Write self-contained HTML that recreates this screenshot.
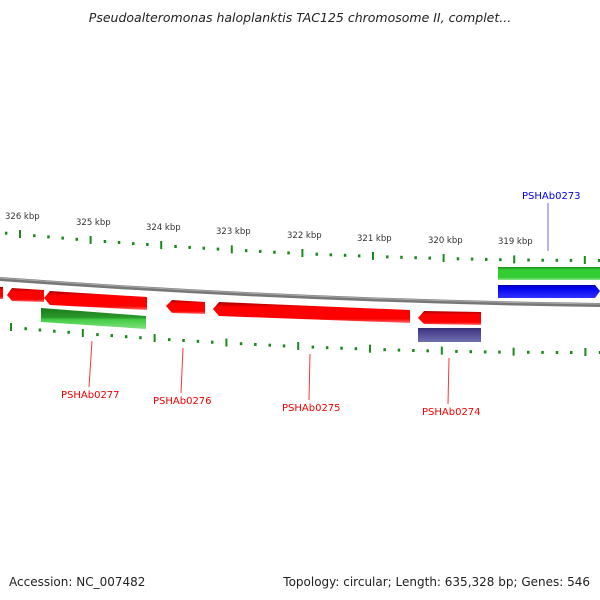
<!DOCTYPE html>
<html><head><style>
html,body{margin:0;padding:0;background:#fff;}
svg{display:block;font-family:"DejaVu Sans","Liberation Sans",sans-serif;}
</style></head><body>
<svg width="600" height="600" xmlns="http://www.w3.org/2000/svg">
<defs>
<linearGradient id="r" x1="0" y1="0" x2="0" y2="1"><stop offset="0" stop-color="#a00000"/><stop offset="0.25" stop-color="#f00"/><stop offset="0.8" stop-color="#f00"/><stop offset="1" stop-color="#ff7070"/></linearGradient>
<linearGradient id="g" x1="0" y1="0" x2="0" y2="1"><stop offset="0" stop-color="#1a7a1a"/><stop offset="0.45" stop-color="#2a9a2a"/><stop offset="0.55" stop-color="#44cc44"/><stop offset="1" stop-color="#80e080"/></linearGradient>
<linearGradient id="g2" x1="0" y1="0" x2="0" y2="1"><stop offset="0" stop-color="#1c8a1c"/><stop offset="0.2" stop-color="#33cc33"/><stop offset="0.8" stop-color="#33cc33"/><stop offset="1" stop-color="#90e890"/></linearGradient>
<linearGradient id="b" x1="0" y1="0" x2="0" y2="1"><stop offset="0" stop-color="#0000aa"/><stop offset="0.2" stop-color="#0000ee"/><stop offset="1" stop-color="#3030ff"/></linearGradient>
<linearGradient id="p" x1="0" y1="0" x2="0" y2="1"><stop offset="0" stop-color="#303070"/><stop offset="0.2" stop-color="#483d8b"/><stop offset="1" stop-color="#7070b0"/></linearGradient>
</defs>
<text x="300" y="22" text-anchor="middle" font-size="12.5" font-style="italic" fill="#222">Pseudoalteromonas haloplanktis TAC125 chromosome II, complet...</text>
<path d="M0,279 Q300,301 600,305" stroke="#777" stroke-width="4" fill="none"/>
<path d="M0,278 Q300,300 600,304" stroke="#aaa" stroke-width="1" fill="none"/>
<g fill="#1a8a1a">
<rect x="4.9" y="231.7" width="2.5" height="3"/>
<rect x="19" y="230" width="2" height="8"/>
<rect x="33.1" y="234.2" width="2.5" height="3"/>
<rect x="47.2" y="235.4" width="2.5" height="3"/>
<rect x="61.4" y="236.6" width="2.5" height="3"/>
<rect x="75.5" y="237.8" width="2.5" height="3"/>
<rect x="89.6" y="235.9" width="2" height="8"/>
<rect x="103.7" y="240" width="2.5" height="3"/>
<rect x="117.8" y="241" width="2.5" height="3"/>
<rect x="132" y="242.1" width="2.5" height="3"/>
<rect x="146.1" y="243" width="2.5" height="3"/>
<rect x="160.2" y="241" width="2" height="8"/>
<rect x="174.3" y="245" width="2.5" height="3"/>
<rect x="188.4" y="245.9" width="2.5" height="3"/>
<rect x="202.5" y="246.7" width="2.5" height="3"/>
<rect x="216.7" y="247.6" width="2.5" height="3"/>
<rect x="230.8" y="245.4" width="2" height="8"/>
<rect x="244.9" y="249.2" width="2.5" height="3"/>
<rect x="259" y="249.9" width="2.5" height="3"/>
<rect x="273.2" y="250.7" width="2.5" height="3"/>
<rect x="287.3" y="251.4" width="2.5" height="3"/>
<rect x="301.4" y="249" width="2" height="8"/>
<rect x="315.5" y="252.7" width="2.5" height="3"/>
<rect x="329.6" y="253.3" width="2.5" height="3"/>
<rect x="343.8" y="253.8" width="2.5" height="3"/>
<rect x="357.9" y="254.4" width="2.5" height="3"/>
<rect x="372" y="251.9" width="2" height="8"/>
<rect x="386.1" y="255.4" width="2.5" height="3"/>
<rect x="400.2" y="255.8" width="2.5" height="3"/>
<rect x="414.4" y="256.2" width="2.5" height="3"/>
<rect x="428.5" y="256.6" width="2.5" height="3"/>
<rect x="442.6" y="254" width="2" height="8"/>
<rect x="456.7" y="257.3" width="2.5" height="3"/>
<rect x="470.8" y="257.6" width="2.5" height="3"/>
<rect x="485" y="257.9" width="2.5" height="3"/>
<rect x="499.1" y="258.2" width="2.5" height="3"/>
<rect x="513.2" y="255.4" width="2" height="8"/>
<rect x="527.3" y="258.5" width="2.5" height="3"/>
<rect x="541.4" y="258.7" width="2.5" height="3"/>
<rect x="555.6" y="258.8" width="2.5" height="3"/>
<rect x="569.7" y="258.9" width="2.5" height="3"/>
<rect x="583.8" y="256" width="2" height="8"/>
<rect x="597.9" y="259" width="2.5" height="3"/>

<rect x="10" y="323" width="2" height="8"/>
<rect x="24.4" y="327.2" width="2.5" height="3"/>
<rect x="38.7" y="328.5" width="2.5" height="3"/>
<rect x="53.1" y="329.7" width="2.5" height="3"/>
<rect x="67.4" y="330.8" width="2.5" height="3"/>
<rect x="81.8" y="329" width="2" height="8"/>
<rect x="96.2" y="333.1" width="2.5" height="3"/>
<rect x="110.5" y="334.1" width="2.5" height="3"/>
<rect x="124.9" y="335.2" width="2.5" height="3"/>
<rect x="139.2" y="336.2" width="2.5" height="3"/>
<rect x="153.6" y="334.1" width="2" height="8"/>
<rect x="168" y="338.1" width="2.5" height="3"/>
<rect x="182.3" y="339" width="2.5" height="3"/>
<rect x="196.7" y="339.8" width="2.5" height="3"/>
<rect x="211" y="340.7" width="2.5" height="3"/>
<rect x="225.4" y="338.5" width="2" height="8"/>
<rect x="239.8" y="342.2" width="2.5" height="3"/>
<rect x="254.1" y="343" width="2.5" height="3"/>
<rect x="268.5" y="343.7" width="2.5" height="3"/>
<rect x="282.8" y="344.4" width="2.5" height="3"/>
<rect x="297.2" y="342" width="2" height="8"/>
<rect x="311.6" y="345.6" width="2.5" height="3"/>
<rect x="325.9" y="346.2" width="2.5" height="3"/>
<rect x="340.3" y="346.7" width="2.5" height="3"/>
<rect x="354.6" y="347.2" width="2.5" height="3"/>
<rect x="369" y="344.7" width="2" height="8"/>
<rect x="383.4" y="348.2" width="2.5" height="3"/>
<rect x="397.7" y="348.6" width="2.5" height="3"/>
<rect x="412.1" y="349" width="2.5" height="3"/>
<rect x="426.4" y="349.3" width="2.5" height="3"/>
<rect x="440.8" y="346.6" width="2" height="8"/>
<rect x="455.2" y="349.9" width="2.5" height="3"/>
<rect x="469.5" y="350.2" width="2.5" height="3"/>
<rect x="483.9" y="350.4" width="2.5" height="3"/>
<rect x="498.2" y="350.6" width="2.5" height="3"/>
<rect x="512.6" y="347.7" width="2" height="8"/>
<rect x="527" y="350.8" width="2.5" height="3"/>
<rect x="541.3" y="350.9" width="2.5" height="3"/>
<rect x="555.7" y="351" width="2.5" height="3"/>
<rect x="570" y="351" width="2.5" height="3"/>
<rect x="584.4" y="348" width="2" height="8"/>
<rect x="598.8" y="351" width="2.5" height="3"/>
</g>
<g font-size="8.5" fill="#333">
<text x="5" y="219">326 kbp</text><text x="76" y="225">325 kbp</text><text x="146" y="230">324 kbp</text><text x="216" y="234">323 kbp</text><text x="287" y="238">322 kbp</text><text x="357" y="241">321 kbp</text><text x="428" y="243">320 kbp</text><text x="498" y="244">319 kbp</text>
</g>
<polygon points="0,287 3,287 3,299 0,299" fill="url(#r)"/>
<polygon points="12,288 44,290 44,302 12,301 7,295" fill="url(#r)"/>
<polygon points="50,291 147,297 147,310 50,305 44,298" fill="url(#r)"/>
<polygon points="172,300 205,302 205,314 172,313 166,306" fill="url(#r)"/>
<polygon points="219,302 410,310 410,323 219,316 213,309" fill="url(#r)"/>
<polygon points="424,311 481,312 481,325 424,324 418,318" fill="url(#r)"/>
<polygon points="41,308 146,316 146,329 41,322" fill="url(#g)"/>
<rect x="418" y="328" width="63" height="14" fill="url(#p)"/>
<rect x="498" y="267" width="102" height="13" fill="url(#g2)"/>
<polygon points="498,285 595,285 600,291 595,298 498,298" fill="url(#b)"/>
<g stroke="#f33" stroke-width="1">
<line x1="92" y1="341" x2="89" y2="387"/><line x1="183" y1="348" x2="181" y2="393"/><line x1="310" y1="354" x2="309" y2="400"/><line x1="449" y1="358" x2="448" y2="404"/>
</g>
<line x1="548" y1="203" x2="548" y2="251" stroke="#66f" stroke-width="1"/>
<g font-size="10" fill="#e00">
<text x="61" y="398">PSHAb0277</text><text x="153" y="404">PSHAb0276</text><text x="282" y="411">PSHAb0275</text><text x="422" y="415">PSHAb0274</text>
</g>
<text x="522" y="199" font-size="10" fill="#00e">PSHAb0273</text>
<text x="9" y="586" font-size="12" fill="#222">Accession: NC_007482</text>
<text x="590" y="586" font-size="12" fill="#222" text-anchor="end">Topology: circular; Length: 635,328 bp; Genes: 546</text>
</svg>
</body></html>
